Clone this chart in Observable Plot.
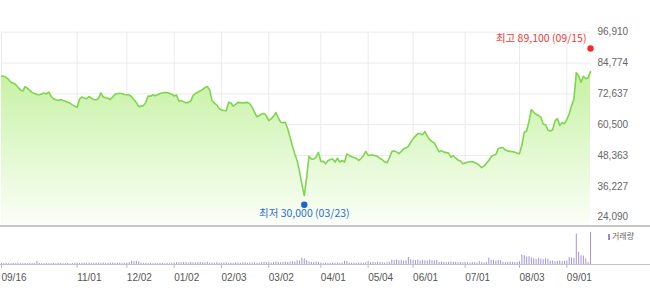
<!DOCTYPE html>
<html><head><meta charset="utf-8">
<script src="https://cdn.jsdelivr.net/npm/d3@7"></script>
<script src="https://cdn.jsdelivr.net/npm/@observablehq/plot@0.6"></script>
<style>
body{margin:0;background:#fff;}
#wrap{position:relative;width:650px;height:293px;overflow:hidden;font-family:"Liberation Sans",Arial,sans-serif;}
#main{position:absolute;left:0;top:0;}
#vol{position:absolute;left:0;top:227px;}
.sep{position:absolute;left:0;width:650px;}
#legend{position:absolute;left:608px;top:230px;font:8px "Noto Sans CJK KR",sans-serif;color:#666;line-height:12px;}
</style></head><body>
<div id="wrap">
<div id="main"></div>
<div id="vol"></div>
<div class="sep" style="top:224.5px;height:2px;background:#c6c6c6"></div>
<div class="sep" style="top:264px;height:1px;background:#c2c2c2"></div>
<div id="legend"><span style="display:inline-block;width:2px;height:6px;background:#9a88d8;margin-right:2px;vertical-align:-1px"></span>거래량</div>
</div>
<script>
// daily closing prices, trading days 2019-09-16 .. 2020-09-15
const prices = [
79600,79600,79000,78300,77200,76800,76300,75200,74200,73700,
75500,74800,74000,73100,72800,72400,72300,72600,73000,72600,
73300,71600,70700,70300,70000,70400,70000,69700,69300,68900,
68300,67800,67400,70600,71400,71000,70700,71600,70900,70400,
70200,70900,73000,71500,71100,70900,70400,71400,72500,72700,
72900,72700,72400,72300,72200,71500,70300,69200,67600,67800,
68000,69300,71800,71700,72300,71900,72300,72800,73000,73200,
73100,72900,72500,71800,72200,69800,70000,69500,69100,69300,
69800,72000,72800,73300,73800,74300,75100,75600,74200,70000,
69000,68300,66800,66300,66100,66000,69300,69000,67800,68500,
69300,69200,69100,69200,69300,68700,67300,65300,63600,64100,
64800,64900,64000,62100,62800,63800,65300,63200,61500,61300,
61400,58900,55500,52000,49000,46300,42000,37000,32600,39800,
48100,47000,46900,47700,49600,46000,46100,45100,46300,46800,
47000,45800,47300,45800,46400,45800,49000,48400,47900,47600,
47300,46400,47200,48300,50000,48400,48500,48600,48300,48000,
47200,46700,45900,45500,47500,49900,50200,49800,49100,50000,
51000,51300,52000,53600,55000,56000,56900,57000,56500,57800,
56000,54600,53800,53300,51500,49800,50300,49700,49500,49300,
47700,48300,47300,46600,46200,45100,45400,45700,45900,46000,
45600,45200,44500,43600,44200,45300,46400,47800,48500,48800,
51000,51400,51500,50500,50200,50000,49900,49700,49300,49100,
52500,57500,58000,61800,66500,65400,64600,64100,63500,60800,
60500,58400,58000,58500,62000,62900,60200,61300,60900,62500,
64800,68000,70500,81000,79800,77200,79600,78600,79000,81400
];
// daily volume (relative units)
const volumes = [
5,4,5,4,4,5,4,5,4,4,
5,4,5,4,4,11,5,4,4,5,
4,4,5,4,5,5,4,4,5,4,
4,5,6,5,5,6,5,6,5,5,
6,5,5,6,5,5,6,6,5,5,
6,5,5,6,7,12,10,11,9,6,
5,5,4,5,4,5,4,5,5,4,
5,4,5,6,7,7,6,8,7,6,
8,7,6,7,8,6,7,8,6,6,
5,7,6,5,6,7,5,6,5,7,
6,5,6,7,5,6,6,7,5,6,
7,8,7,8,6,7,9,8,7,8,
9,8,9,10,9,13,12,21,18,13,
9,8,7,9,8,6,5,6,5,5,
6,5,6,5,6,11,10,6,5,6,
5,6,6,5,7,11,7,8,7,9,
8,7,6,7,8,15,14,15,13,14,
12,13,23,16,14,13,15,12,14,13,
12,15,13,12,14,8,9,8,7,8,
9,8,8,7,8,7,8,7,6,8,
7,6,11,7,6,8,21,14,13,12,
14,13,8,7,8,9,8,7,8,10,
31,28,24,25,22,19,17,20,18,16,
19,17,11,12,10,11,12,10,11,12,
23,21,20,94,38,28,27,18,8,99
];
const tickIdx = [0,32,53,73,93,113,135,155,174,196,219,239];
const tickLabels = ["09/16","11/01","12/02","01/02","02/03","03/02","04/01","05/04","06/01","07/01","08/03","09/01"];
const yTicks = [24090,36227,48363,60500,72637,84774,96910];
const yDomain = [20823,96910];
const markerIdx = [249,128];
const markerVal = [89100,30000];
const markerLabel = ["최고 89,100 (09/15)","최저 30,000 (03/23)"];
const markerColor = ["#f52a2a","#1f63d3"];
const markerTextColor = ["#f03a3a","#2e6fcc"];

const markers = markerIdx.map((d,i)=>({i:d, v:markerVal[i], label:markerLabel[i], c:markerColor[i], tc:markerTextColor[i]}));

const gradientDefs = () => {
  const defs = d3.create("svg:defs");
  const g = defs.append("linearGradient").attr("id","areaGrad")
    .attr("gradientUnits","userSpaceOnUse").attr("x1",0).attr("x2",0).attr("y1",60).attr("y2",225);
  g.append("stop").attr("offset","0%").attr("stop-color","#c2f09c");
  g.append("stop").attr("offset","55%").attr("stop-color","#e2f9d0");
  g.append("stop").attr("offset","100%").attr("stop-color","#fbfef8");
  return defs.node();
};

const X = (d,i)=>i;
const main = Plot.plot({
  width:650, height:227,
  marginTop:31.7, marginBottom:2, marginLeft:1, marginRight:60,
  style:{fontFamily:"Liberation Sans, Arial, sans-serif", fontSize:"10px", color:"#666", background:"transparent"},
  x:{domain:[0,249], axis:null},
  y:{domain:yDomain, ticks:yTicks, tickFormat:d3.format(","), tickSize:0, tickPadding:7, axis:"right", label:null},
  marks:[
    gradientDefs,
    Plot.ruleY(yTicks, {stroke:"#ebebeb", strokeWidth:1}),
    Plot.ruleX(tickIdx, {stroke:"#ebebeb", strokeWidth:1}),
    Plot.areaY(prices, {x:X, y1:yDomain[0], y2:d=>d, fill:"url(#areaGrad)"}),
    Plot.lineY(prices, {x:X, y:d=>d, stroke:"#7fd54f", strokeWidth:1.6}),
    Plot.dot(markers.slice(0,1), {x:"i", y:"v", r:3.2, fill:"c", stroke:null, dy:-3.5}),
    Plot.dot(markers.slice(1), {x:"i", y:"v", r:3.2, fill:"c", stroke:null, dy:2.6}),
    Plot.text(markers.slice(0,1), {x:"i", y:"v", text:"label", fill:"tc", textAnchor:"end", dx:-4, dy:-13.5, fontSize:10.5, fontFamily:"Noto Sans CJK KR, sans-serif"}),
    Plot.text(markers.slice(1), {x:"i", y:"v", text:"label", fill:"tc", textAnchor:"middle", dy:11.5, fontSize:10.5, fontFamily:"Noto Sans CJK KR, sans-serif"})
  ]
});
document.getElementById("main").appendChild(main);

const vol = Plot.plot({
  width:650, height:66,
  marginTop:4.5, marginBottom:28.5, marginLeft:1, marginRight:60,
  style:{fontFamily:"Liberation Sans, Arial, sans-serif", fontSize:"10px", color:"#555", background:"transparent"},
  x:{domain:[0,249], axis:null},
  y:{domain:[0,100], axis:null},
  marks:[
    Plot.ruleX(volumes, {x:X, y1:0, y2:d=>d, stroke:"#a493dc", strokeWidth:1}),
    Plot.ruleX(tickIdx, {y1:0, y2:-10, stroke:"#b8b8b8"}),
    Plot.text(tickIdx, {x:d=>d, y:0, text:(d,i)=>tickLabels[i], textAnchor:"start", dy:12.5, fill:"#555", fontSize:10})
  ]
});
document.getElementById("vol").appendChild(vol);
</script>
</body></html>
